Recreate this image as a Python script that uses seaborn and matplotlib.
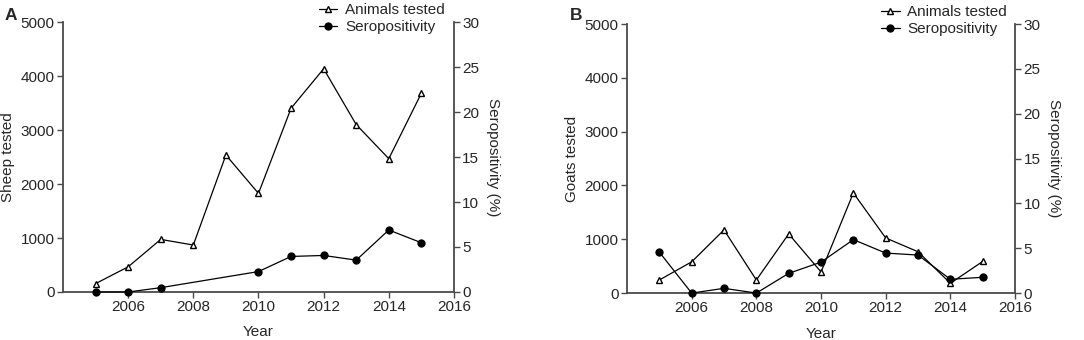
import numpy as np
import pandas as pd
import matplotlib
matplotlib.use("Agg")
import matplotlib.pyplot as plt
import seaborn as sns

years = [2005, 2006, 2007, 2008, 2009, 2010, 2011, 2012, 2013, 2014, 2015]

# panel A - sheep
sheep_tested = [155, 466, 974, 870, 2537, 1826, 3403, 4134, 3100, 2469, 3682]
sheep_sero = [0.0, 0.0, 0.48, np.nan, np.nan, 2.27, 3.95, 4.06, 3.54, 6.89, 5.47]

# panel B - goats
goats_tested = [243, 580, 1174, 243, 1099, 393, 1861, 1024, 768, 182, 588]
goats_sero = [4.57, 0.0, 0.53, 0.0, 2.2, 3.45, 5.96, 4.46, 4.24, 1.54, 1.76]

sns.set_style("ticks")
plt.rcParams["font.family"] = ["Liberation Sans", "DejaVu Sans"]
plt.rcParams["font.size"] = 11

fig = plt.figure(figsize=(10.84, 3.4), dpi=100)

spine_col = "#4a4a4a"


def panel(rect, tested, sero, ylabel, letter, letter_x):
    ax = fig.add_axes(rect)
    ax2 = ax.twinx()
    df = pd.DataFrame({"Year": years, "tested": tested, "sero": sero})
    sns.lineplot(data=df, x="Year", y="tested", ax=ax, color="black", lw=0.9,
                 marker="^", markersize=5, markerfacecolor="white",
                 markeredgecolor="black", markeredgewidth=1.0,
                 label="Animals tested", legend=False, clip_on=False, zorder=3)
    d2 = df.dropna(subset=["sero"])
    sns.lineplot(data=d2, x="Year", y="sero", ax=ax2, color="black", lw=0.9,
                 marker="o", markersize=5.2, markerfacecolor="black",
                 markeredgecolor="black",
                 label="Seropositivity", legend=False, clip_on=False, zorder=3)
    ax.set_xlim(2004, 2016)
    ax.set_ylim(0, 5000)
    ax2.set_ylim(0, 30)
    ax.set_xticks([2006, 2008, 2010, 2012, 2014, 2016])
    ax.set_yticks([0, 1000, 2000, 3000, 4000, 5000])
    ax2.set_yticks([0, 5, 10, 15, 20, 25, 30])
    ax.set_xlabel("Year", labelpad=8)
    ax.set_ylabel(ylabel, labelpad=4)
    ax2.set_ylabel("Seropositivity (%)", rotation=270, labelpad=15)
    for a in (ax, ax2):
        a.spines["top"].set_visible(False)
        for s in ("left", "right", "bottom"):
            a.spines[s].set_color(spine_col)
            a.spines[s].set_linewidth(1.3)
        a.tick_params(length=4, width=1.0, color=spine_col, labelsize=11, pad=2)
    ax.spines["right"].set_visible(False)
    ax2.spines["left"].set_visible(False)
    ax2.spines["bottom"].set_visible(False)
    h1, l1 = ax.get_legend_handles_labels()
    h2, l2 = ax2.get_legend_handles_labels()
    ax2.legend(h1 + h2, l1 + l2, loc="upper left", bbox_to_anchor=(0.655, 1.07),
               frameon=False, borderpad=0, borderaxespad=0, handlelength=1.2,
               handletextpad=0.5, labelspacing=0.2, fontsize=11)
    fig.text(letter_x, 0.975, letter, fontweight="bold", fontsize=12.5,
             ha="left", va="top")
    return ax, ax2


panel([0.0581, 0.1412, 0.3607, 0.794], sheep_tested, sheep_sero,
      "Sheep tested", "A", 0.004)
panel([0.5784, 0.138, 0.358, 0.7914], goats_tested, goats_sero,
      "Goats tested", "B", 0.526)

fig.savefig("out.png", dpi=100)
